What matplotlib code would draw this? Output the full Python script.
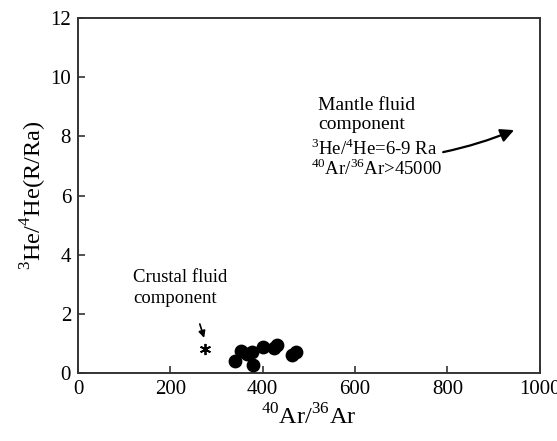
import matplotlib
matplotlib.use('Agg')
import matplotlib.pyplot as plt

plt.rcParams['font.family'] = ['Liberation Serif', 'DejaVu Serif']
plt.rcParams['mathtext.fontset'] = 'custom'
plt.rcParams['mathtext.rm'] = 'Liberation Serif'

# samples
ar_ratio = [340, 352, 365, 377, 380, 400, 425, 430, 463, 473]
he_ratio = [0.42, 0.75, 0.65, 0.70, 0.28, 0.88, 0.85, 0.95, 0.62, 0.72]

# crustal end member marker
crust_x = [275]
crust_y = [0.82]

xticks = [0, 200, 400, 600, 800, 1000]
yticks = [0, 2, 4, 6, 8, 10, 12]

fig = plt.figure(figsize=(5.57, 4.41), dpi=100)
ax = fig.add_axes([0.14, 0.154, 0.829, 0.805])

ax.scatter(ar_ratio, he_ratio, s=80, color='black', zorder=3)
ax.plot(crust_x, crust_y, ls='none', marker=(6, 2, 0), ms=8, mew=1.3, color='black')

ax.set_xlim(0, 1000)
ax.set_ylim(0, 12)
ax.set_xticks(xticks)
ax.set_yticks(yticks)
ax.tick_params(direction='in', length=5, width=1.2, labelsize=15, color='#333333',
               pad=5)
for s in ax.spines.values():
    s.set_linewidth(1.4)
    s.set_color('#333333')

ax.set_xlabel(r'$^{40}$Ar/$^{36}$Ar', fontsize=17.5, labelpad=4)
ax.set_ylabel(r'$^{3}$He/$^{4}$He(R/Ra)', fontsize=17.5, labelpad=1)

ax.text(120, 2.25, 'Crustal fluid\ncomponent', fontsize=13.5, ha='left', va='bottom',
        linespacing=1.3)
ax.annotate('', xy=(275, 1.1), xytext=(262, 1.75),
            arrowprops=dict(arrowstyle='-|>', color='black', lw=1.2,
                            mutation_scale=10))

ax.text(520, 8.1, 'Mantle fluid\ncomponent', fontsize=14, ha='left', va='bottom',
        linespacing=1.2)
ax.text(505, 6.55, r'$^{3}$He/$^{4}$He=6-9 Ra' + '\n' + r'$^{40}$Ar/$^{36}$Ar>45000',
        fontsize=13.5, ha='left', va='bottom', linespacing=1.0)
ax.annotate('', xy=(950, 8.25), xytext=(785, 7.45),
            arrowprops=dict(arrowstyle='-|>', color='black', lw=1.6,
                            mutation_scale=20, connectionstyle='arc3,rad=0.05'))

fig.savefig('out.png', dpi=100)
